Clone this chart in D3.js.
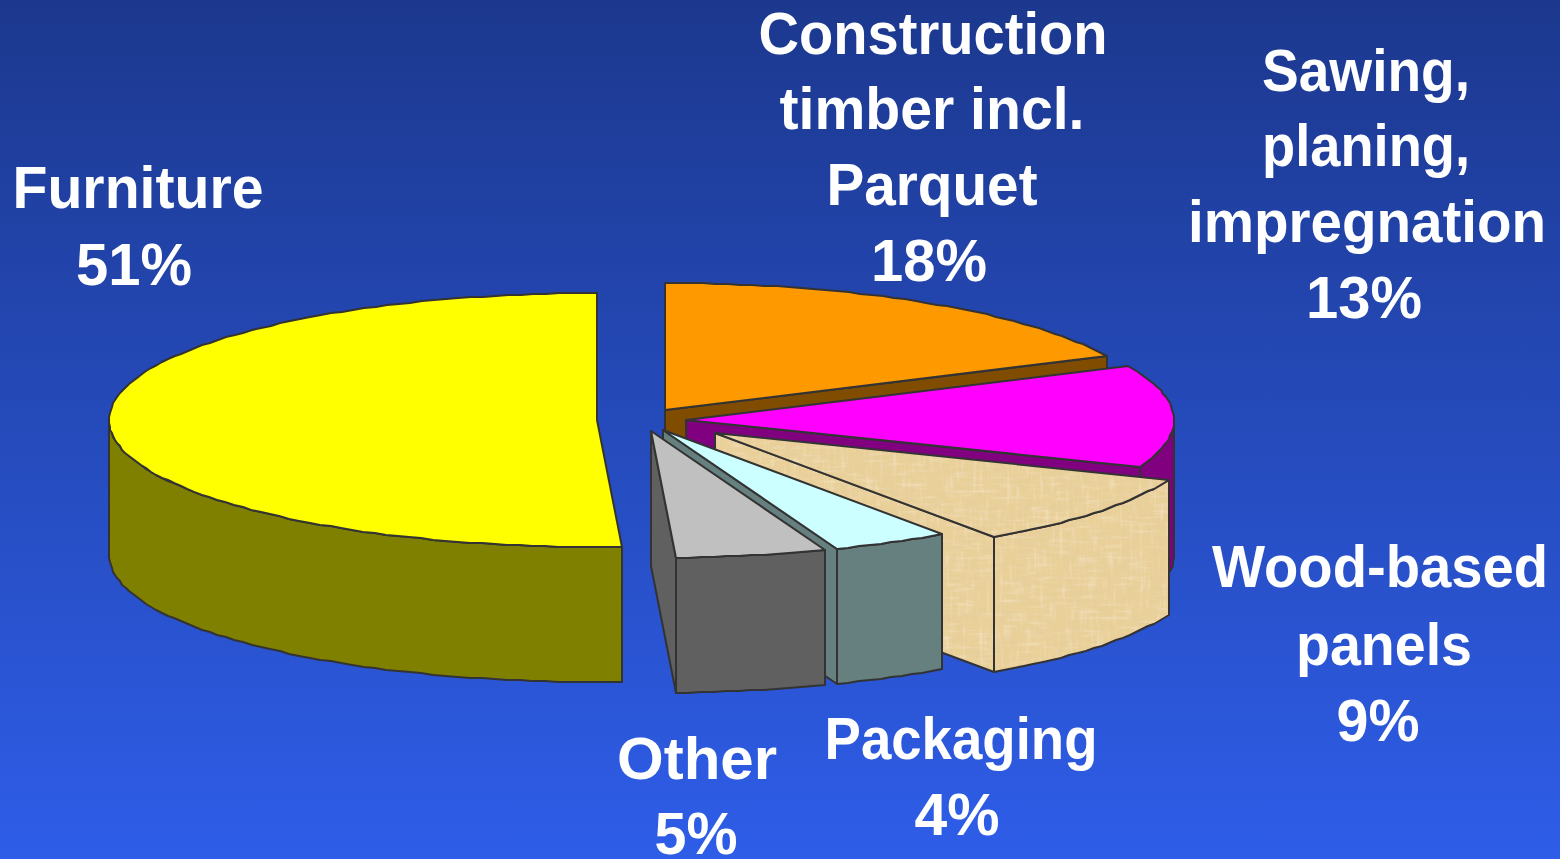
<!DOCTYPE html>
<html>
<head>
<meta charset="utf-8">
<script src="https://cdn.jsdelivr.net/npm/d3@7"></script>
<style>
html, body { margin: 0; padding: 0; overflow: hidden; }
svg { display: block; }
</style>
</head>
<body>
<div id="chart"></div>
<script>
// values, clockwise from 12 o'clock
// (measured off the slice angles, the printed labels are rounded)
var categories = ["Construction timber incl. Parquet", "Sawing, planing, impregnation", "Wood-based panels", "Packaging", "Other", "Furniture"];
var shares = [18, 13, 9.3, 3.9, 5, 50.8];
var labelLines = [
    ["Construction", "timber incl.", "Parquet", "18%"],
    ["Sawing,", "planing,", "impregnation", "13%"],
    ["Wood-based", "panels", "9%"],
    ["Packaging", "4%"],
    ["Other", "5%"],
    ["Furniture", "51%"]
];

var WIDTH = 1560;
var HEIGHT = 859;
var RX = 488;
var RY = 127;
var DEPTH = 135;
var STROKE = "#333333";

// where each exploded slice has its tip, and where its label lines sit
var tips = [[665, 410], [686, 420], [715, 433], [663, 430], [651, 431], [597, 420]];
var labelX = [
    [933, 932, 932, 929],
    [1366, 1366, 1367, 1364],
    [1380, 1384, 1378],
    [961, 957],
    [697, 696],
    [138, 134]
];
var labelY = [
    [54, 129, 205, 281],
    [91, 166, 242, 318],
    [587, 665, 741],
    [759, 835],
    [779, 854],
    [208, 285]
];
var labelWidths = [
    [349, 305, 211, 116],
    [208, 208, 358, 116],
    [336, 176, 83],
    [273, 85],
    [160, 83],
    [251, 116]
];
var topColors = ["#ff9900", "#ff00ff", "url(#papyrus)", "#ccffff", "#c0c0c0", "#ffff00"];
var sideColors = ["#804d00", "#800080", "url(#papyrus)", "#668080", "#606060", "#808000"];

var svg = d3.select("#chart").append("svg")
    .attr("width", WIDTH)
    .attr("height", HEIGHT);

var defs = svg.append("defs");

var bg = defs.append("linearGradient")
    .attr("id", "bg")
    .attr("x1", 0).attr("y1", 0)
    .attr("x2", 0).attr("y2", 1);
bg.append("stop").attr("offset", "0%").attr("stop-color", "#1c388e");
bg.append("stop").attr("offset", "100%").attr("stop-color", "#2e5de8");

// papyrus look of the wood-based panels slice: brown blotches plus faint woven threads
var grain = defs.append("filter")
    .attr("id", "grain")
    .attr("x", 0).attr("y", 0)
    .attr("width", 1).attr("height", 1);
grain.append("feTurbulence")
    .attr("type", "fractalNoise")
    .attr("baseFrequency", "0.06 0.08")
    .attr("numOctaves", 4)
    .attr("seed", 7)
    .attr("result", "noise");
grain.append("feColorMatrix")
    .attr("in", "noise")
    .attr("type", "matrix")
    .attr("values", "0 0 0 0 0.80  0 0 0 0 0.62  0 0 0 0 0.32  2.4 0 0 0 -1.0")
    .attr("result", "spots");
grain.append("feTurbulence")
    .attr("type", "fractalNoise")
    .attr("baseFrequency", "0.3 0.04")
    .attr("numOctaves", 2)
    .attr("seed", 3)
    .attr("result", "vnoise");
grain.append("feColorMatrix")
    .attr("in", "vnoise")
    .attr("type", "matrix")
    .attr("values", "0 0 0 0 0.95  0 0 0 0 0.86  0 0 0 0 0.68  1 0 0 0 -0.5")
    .attr("result", "vthreads");
grain.append("feTurbulence")
    .attr("type", "fractalNoise")
    .attr("baseFrequency", "0.04 0.3")
    .attr("numOctaves", 2)
    .attr("seed", 11)
    .attr("result", "hnoise");
grain.append("feColorMatrix")
    .attr("in", "hnoise")
    .attr("type", "matrix")
    .attr("values", "0 0 0 0 0.95  0 0 0 0 0.86  0 0 0 0 0.68  1 0 0 0 -0.5")
    .attr("result", "hthreads");
var grainMerge = grain.append("feMerge");
grainMerge.append("feMergeNode").attr("in", "SourceGraphic");
grainMerge.append("feMergeNode").attr("in", "hthreads");
grainMerge.append("feMergeNode").attr("in", "vthreads");
grainMerge.append("feMergeNode").attr("in", "spots");

var papyrus = defs.append("pattern")
    .attr("id", "papyrus")
    .attr("patternUnits", "userSpaceOnUse")
    .attr("width", WIDTH)
    .attr("height", HEIGHT);
papyrus.append("rect")
    .attr("width", WIDTH)
    .attr("height", HEIGHT)
    .attr("fill", "#e9cf98")
    .attr("filter", "url(#grain)");

svg.append("rect")
    .attr("width", WIDTH)
    .attr("height", HEIGHT)
    .attr("fill", "url(#bg)");

var pie = d3.pie().sort(null).value(d => d);
var slices = pie(shares);

var xScale = d3.scaleLinear().domain([-1, 1]).range([-RX, RX]);
var yScale = d3.scaleLinear().domain([-1, 1]).range([-RY, RY]);

function rimPoint(tip, angle, drop) {
    // the original rim is a slightly stepped polyline, whole pixels give that
    return [
        Math.round(tip[0] + xScale(Math.sin(angle))),
        Math.round(tip[1] + yScale(-Math.cos(angle))) + drop
    ];
}

function rim(tip, a0, a1, drop) {
    var n = Math.max(2, Math.ceil((a1 - a0) / (Math.PI / 120)));
    return d3.range(n + 1).map(function (i) {
        return rimPoint(tip, a0 + (a1 - a0) * i / n, drop);
    });
}

var line = d3.line();

function drawFace(g, points, fill) {
    g.append("path")
        .attr("d", line(points) + "Z")
        .attr("fill", fill)
        .attr("stroke", STROKE)
        .attr("stroke-width", 2)
        .attr("stroke-linejoin", "round");
}

var pieGroup = svg.append("g").attr("class", "pie");

// slices array order is also back to front
slices.forEach(function (slice, i) {
    var tip = tips[i];
    var g = pieGroup.append("g").attr("class", "slice");
    var a0 = slice.startAngle;
    var a1 = slice.endAngle;

    // cut face on the end angle
    var end = rimPoint(tip, a1, 0);
    drawFace(g, [tip, end, [end[0], end[1] + DEPTH], [tip[0], tip[1] + DEPTH]], sideColors[i]);

    // outer wall, only the part on the near half of the ellipse
    var w0 = Math.max(a0, Math.PI / 2);
    var w1 = Math.min(a1, Math.PI * 1.5);
    if (w1 > w0) {
        var wall = rim(tip, w0, w1, 0);
        var wallBottom = rim(tip, w0, w1, DEPTH).reverse();
        drawFace(g, wall.concat(wallBottom), sideColors[i]);
    }

    // top
    drawFace(g, [tip].concat(rim(tip, a0, a1, 0)), topColors[i]);
});

var labels = svg.append("g").attr("class", "labels");

labelLines.forEach(function (lines, i) {
    labels.append("g")
        .attr("data-category", categories[i])
        .selectAll("text")
        .data(lines).enter()
        .append("text")
        .attr("x", (d, idx) => labelX[i][idx])
        .attr("y", (d, idx) => labelY[i][idx])
        .attr("textLength", (d, idx) => labelWidths[i][idx])
        .attr("lengthAdjust", "spacingAndGlyphs")
        .attr("text-anchor", "middle")
        .attr("fill", "#ffffff")
        .style("font-family", "'Liberation Sans', Arial, sans-serif")
        .style("font-weight", "bold")
        .style("font-size", "60px")
        .text(d => d);
});
</script>
</body>
</html>
